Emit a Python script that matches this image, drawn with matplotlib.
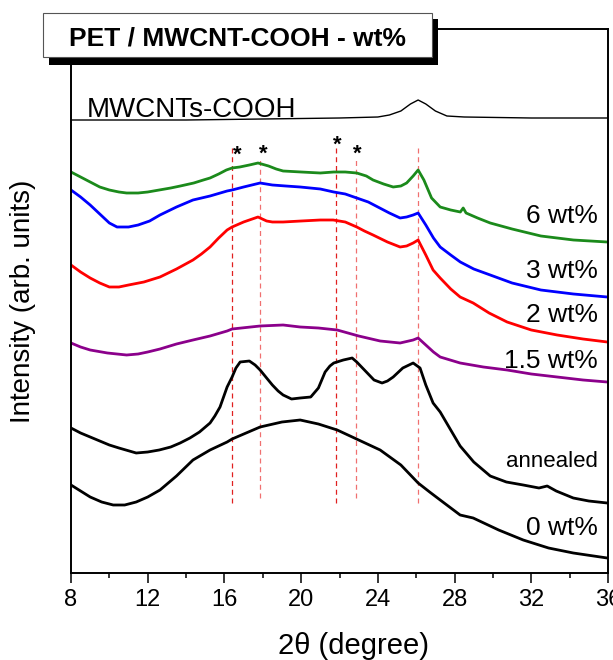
"""XRD patterns of PET / MWCNT-COOH composites (stacked)"""

import matplotlib
matplotlib.use('Agg')
import matplotlib.pyplot as plt
from matplotlib.patches import Rectangle
from matplotlib.ticker import MultipleLocator
import matplotlib.transforms as mtransforms

plt.rcParams['font.family'] = ['Liberation Sans', 'DejaVu Sans']

# Curves: 2theta (deg) and stacked intensity (arb. units)
cnt_tt = [8, 10, 14, 18, 22, 24.0, 24.6, 25.2, 25.7, 26.1, 26.5, 27.0, 27.6, 28.5, 32, 36]
cnt_int = [453, 453, 453, 454, 455, 456, 458, 462, 469, 473, 469, 462, 457, 456, 455, 455]

wt6_tt = [8.0, 8.5, 9.0, 9.5, 10.0, 10.5, 10.9, 11.5, 12.0, 12.6, 13.2, 13.7, 14.4, 14.9,
          15.25, 15.7, 16.1, 16.4, 16.8, 17.3, 17.75, 18.3, 18.7, 19.06, 20.0, 21.0, 21.7,
          22.3, 22.9, 23.4, 23.75, 24.3, 24.8, 25.2, 25.5, 25.84, 26.1, 26.4, 26.8, 27.25,
          27.8, 28.3, 28.45, 28.6, 29.2, 29.86, 31.0, 32.5, 34.2, 35.96]
wt6_int = [401, 396, 391, 386, 383, 381, 380, 380, 381, 383, 385, 387, 390, 393,
           395, 399, 403, 405, 406, 408, 410, 407, 404, 402, 401, 400, 401,
           401, 400, 397, 393, 389, 386, 387, 390, 397, 403, 393, 375, 366,
           363, 361, 365, 360, 355, 350, 344, 337, 333, 331]

wt3_tt = [8.0, 8.5, 9.0, 9.5, 10.0, 10.4, 11.0, 11.5, 12.1, 12.64, 13.5, 14.36, 15.25, 16.14,
          16.4, 17.0, 17.86, 18.5, 19.2, 19.95, 21.0, 21.7, 22.3, 22.9, 23.5, 24.0, 24.6,
          25.16, 25.5, 25.84, 26.1, 26.5, 26.9, 27.25, 27.8, 28.3, 29.0, 29.86, 31.0, 32.5,
          34.2, 35.96]
wt3_int = [383, 376, 368, 359, 350, 346, 346, 348, 352, 358, 366, 373, 377, 382,
           383, 386, 390, 388, 387, 386, 384, 381, 379, 375, 371, 366, 360,
           355, 356, 358, 360, 348, 335, 326, 318, 311, 304, 298, 290, 283,
           279, 276]

wt2_tt = [8.0, 8.5, 9.0, 9.5, 10.0, 10.5, 11.0, 11.8, 12.64, 13.5, 14.36, 14.8, 15.25, 15.7,
          16.14, 16.4, 17.0, 17.75, 18.2, 18.5, 19.06, 20.0, 21.0, 21.67, 22.3, 22.9, 23.3,
          23.75, 24.5, 25.16, 25.5, 25.84, 26.1, 26.5, 26.88, 27.25, 27.8, 28.29, 28.97,
          29.8, 30.74, 32.0, 33.35, 34.7, 35.96]
wt2_int = [308, 301, 295, 290, 286, 286, 288, 291, 296, 304, 313, 319, 326, 335,
           343, 346, 351, 356, 352, 351, 351, 352, 353, 353, 351, 346, 342,
           338, 331, 326, 327, 330, 333, 318, 303, 295, 284, 276, 270,
           260, 251, 243, 238, 234, 231]

wt15_tt = [8.0, 8.5, 9.0, 9.9, 10.9, 11.5, 12.0, 12.64, 13.5, 14.36, 15.25, 16.14, 16.4, 17.86,
           19.06, 19.95, 20.9, 21.88, 23.0, 24.12, 25.16, 25.84, 26.1, 26.5, 26.9, 27.25,
           28.29, 29.5, 30.74, 32.0, 33.35, 34.7, 35.96]
wt15_int = [230, 226, 223, 220, 218, 219, 221, 224, 229, 233, 237, 242, 244, 247,
            248, 246, 245, 243, 237, 232, 230, 233, 235, 228, 221, 216,
            210, 206, 203, 199, 196, 193, 191]

ann_tt = [8.0, 8.5, 9.0, 9.5, 10.0, 10.5, 11.4, 12.0, 12.6, 13.2, 13.69, 14.2, 14.7, 15.25,
          15.5, 15.77, 16.14, 16.4, 16.6, 16.82, 17.3, 17.6, 17.86, 18.2, 18.5, 18.8, 19.06,
          19.5, 19.95, 20.5, 20.9, 21.25, 21.5, 21.7, 22.2, 22.66, 22.9, 23.2, 23.5, 23.8,
          24.22, 24.5, 24.8, 25.3, 25.84, 26.2, 26.5, 26.88, 27.25, 27.8, 28.29, 29.0,
          29.86, 30.7, 31.58, 32.4, 32.83, 33.3, 34.19, 35.0, 35.96]
ann_int = [145, 140, 136, 132, 128, 125, 120, 121, 123, 126, 130, 135, 141, 150,
           157, 166, 186, 196, 205, 211, 212, 208, 203, 195, 188, 182, 178,
           174, 175, 176, 185, 201, 207, 210, 213, 215, 211, 205, 199, 193,
           190, 192, 196, 205, 210, 205, 188, 170, 161, 143, 127, 111,
           97, 91, 88, 85, 87, 82, 75, 72, 70]

wt0_tt = [8.0, 8.5, 9.0, 9.6, 10.2, 10.8, 11.4, 12.0, 12.64, 13.5, 14.36, 15.25, 16.14, 16.4,
          17.86, 19.0, 19.95, 20.9, 21.88, 23.0, 24.12, 25.2, 26.1, 26.7, 27.25, 28.29,
          28.97, 30.3, 31.58, 32.9, 34.19, 35.96]
wt0_int = [88, 82, 76, 71, 68, 68, 71, 76, 83, 97, 113, 123, 131, 134,
           146, 151, 153, 149, 143, 133, 123, 108, 90, 81, 73, 58,
           55, 43, 33, 25, 20, 15]

# reference reflections (dashed guide lines) and starred peaks
ref_tt = [16.4, 17.86, 21.8, 22.85, 26.1]
ref_top = [426, 413, 426, 416, 426]
ref_bottom = [70, 75, 70, 75, 70]
ref_colors = ['#e02020', '#f07070', '#e02020', '#f07070', '#f07070']
star_tt = [16.65, 18.02, 21.88, 22.92]
star_int = [425, 426, 435, 426]

fig = plt.figure(figsize=(6.13, 6.6), dpi=100)
ax = fig.add_axes([71/613, 1 - 573/660, 537/613, 544/660])

for x, y0, y1, c in zip(ref_tt, ref_bottom, ref_top, ref_colors):
    ax.plot([x, x], [y0, y1], color=c, lw=0.9, ls=(0, (4, 3)), zorder=1)

ax.plot(cnt_tt, cnt_int, color='black', lw=1.0)
curves = [(wt6_tt, wt6_int, '#1b8a1b'), (wt3_tt, wt3_int, '#0000ff'),
          (wt2_tt, wt2_int, '#ff0000'), (wt15_tt, wt15_int, '#8b008b'),
          (ann_tt, ann_int, 'black'), (wt0_tt, wt0_int, 'black')]
for tt, inten, c in curves:
    ax.plot(tt, inten, color=c, lw=2.0, solid_joinstyle='round')

star_trans = mtransforms.offset_copy(ax.transData, fig=fig, x=0, y=-9, units='points')
for x, y in zip(star_tt, star_int):
    ax.text(x, y, '*', transform=star_trans, ha='center', va='baseline',
            fontsize=16, fontweight='bold')

ax.text(8.83, 456, 'MWCNTs-COOH', fontsize=20, ha='left', va='baseline')
ax.text(35.49, 350, '6 wt%', fontsize=19, ha='right', va='baseline')
ax.text(35.49, 295, '3 wt%', fontsize=19, ha='right', va='baseline')
ax.text(35.49, 251, '2 wt%', fontsize=19, ha='right', va='baseline')
ax.text(35.49, 205, '1.5 wt%', fontsize=19, ha='right', va='baseline')
ax.text(35.49, 106, 'annealed', fontsize=16, ha='right', va='baseline')
ax.text(35.49, 38, '0 wt%', fontsize=19, ha='right', va='baseline')

ax.set_xlim(8, 36)
ax.set_ylim(0, 544)
ax.xaxis.set_major_locator(MultipleLocator(4))
ax.xaxis.set_minor_locator(MultipleLocator(2))
ax.set_yticks([])
ax.tick_params(axis='x', which='major', direction='out', length=7.5, width=1.1,
               labelsize=17, pad=4)
ax.tick_params(axis='x', which='minor', direction='out', length=3.8, width=1.1)
for s in ax.spines.values():
    s.set_linewidth(1.4)

ax.set_xlabel('2\u03b8 (degree)', fontsize=21)
ax.xaxis.set_label_coords(0.527, -0.108)
ax.set_ylabel('Intensity (arb. units)', fontsize=20)
ax.yaxis.set_label_coords(-0.066, 0.5)

# title box with drop shadow, drawn over the top spine
fig.add_artist(Rectangle((49/613, 1 - 65/660), 389/613, 46/660, transform=fig.transFigure,
                         facecolor='black', edgecolor='none', zorder=5))
fig.add_artist(Rectangle((43/613, 1 - 57/660), 389/613, 44/660, transform=fig.transFigure,
                         facecolor='white', edgecolor='#555555', lw=0.8, zorder=6))
fig.text(237/613, 1 - 45/660, 'PET / MWCNT-COOH - wt%', fontsize=19, fontweight='bold',
         ha='center', va='baseline', zorder=7)

plt.savefig('out.png', dpi=100)
